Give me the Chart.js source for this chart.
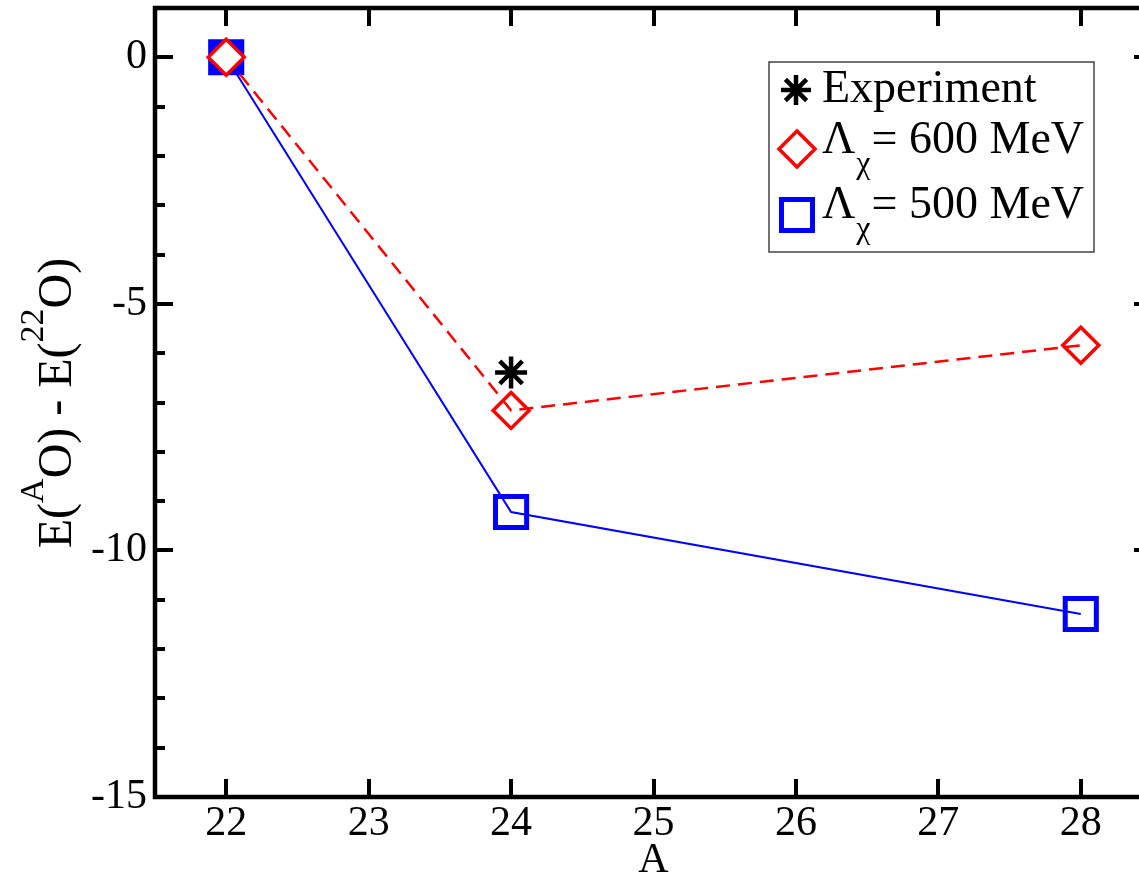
<!DOCTYPE html>
<html>
<head>
<meta charset="utf-8">
<script src="https://cdn.jsdelivr.net/npm/chart.js@4.4.1/dist/chart.umd.min.js"></script>
<style>
  body { margin: 0; background: #fff; }
  #wrap { width: 1139px; height: 882px; overflow: hidden; }
</style>
</head>
<body>
<div id="wrap"><canvas id="oxygenChart" width="1170" height="882"></canvas></div>
<script>
// mass numbers of the oxygen isotopes and energies relative to 22O (MeV)
const massNumbers = [22, 24, 28];
const lambda600 = [0, -7.16, -5.84];
const lambda500 = [0, -9.22, -11.29];
const expMass = [24];
const expEnergy = [-6.39];
const xTickValues = [22, 23, 24, 25, 26, 27, 28];
const yTickValues = [0, -5, -10, -15];
const legendLabels = ['Experiment', '600 MeV', '500 MeV'];

const serif = "'Liberation Serif', 'Times New Roman', serif";

function toPoints(xs, ys) {
  return xs.map((x, i) => ({ x: x, y: ys[i] }));
}

// frame with inward ticks on all four sides
const framePlugin = {
  id: 'frame',
  beforeDatasetsDraw(chart) {
    const { ctx, chartArea: a, scales: { x, y } } = chart;
    ctx.save();
    ctx.strokeStyle = '#000';
    ctx.lineWidth = 4;
    ctx.lineCap = 'butt';
    ctx.beginPath();
    for (let v = -14; v <= 0; v++) {
      const py = Math.round(y.getPixelForValue(v));
      const len = v % 5 === 0 ? 18 : 10;
      ctx.moveTo(a.left, py); ctx.lineTo(a.left + len, py);
      ctx.moveTo(a.right, py); ctx.lineTo(a.right - len, py);
    }
    xTickValues.forEach(v => {
      const px = Math.round(x.getPixelForValue(v));
      ctx.moveTo(px, a.bottom); ctx.lineTo(px, a.bottom - 18);
      ctx.moveTo(px, a.top); ctx.lineTo(px, a.top + 18);
    });
    ctx.stroke();
    ctx.lineWidth = 4.5;
    ctx.strokeRect(a.left, a.top, a.right - a.left, a.bottom - a.top);
    ctx.restore();
  },
  afterDraw(chart) {
    const ctx = chart.ctx;
    ctx.save();

    // y axis title with superscripts
    const main = "48px " + serif, sup = "34px " + serif;
    const parts = [['E(', main, 0], ['A', sup, -28], ['O) - E(', main, 0], ['22', sup, -28], ['O)', main, 0]];
    let total = 0;
    parts.forEach(p => { ctx.font = p[1]; total += ctx.measureText(p[0]).width; });
    ctx.translate(71, 403);
    ctx.rotate(-Math.PI / 2);
    ctx.fillStyle = '#000';
    ctx.textBaseline = 'alphabetic';
    let cx = -total / 2;
    parts.forEach(p => {
      ctx.font = p[1];
      ctx.fillText(p[0], cx, p[2]);
      cx += ctx.measureText(p[0]).width;
    });
    ctx.restore();

    // legend box
    ctx.save();
    ctx.fillStyle = '#fff';
    ctx.fillRect(769, 62, 325, 190);
    ctx.strokeStyle = '#444';
    ctx.lineWidth = 1.5;
    ctx.strokeRect(769, 62, 325, 190);

    // star
    ctx.strokeStyle = '#000';
    ctx.lineWidth = 4.5;
    ctx.beginPath();
    for (let k = 0; k < 4; k++) {
      const ang = k * Math.PI / 4;
      ctx.moveTo(796 - 15 * Math.cos(ang), 90 - 15 * Math.sin(ang));
      ctx.lineTo(796 + 15 * Math.cos(ang), 90 + 15 * Math.sin(ang));
    }
    ctx.stroke();
    // diamond
    ctx.strokeStyle = '#ff0000';
    ctx.lineWidth = 3.5;
    ctx.beginPath();
    ctx.moveTo(797, 131); ctx.lineTo(815, 149); ctx.lineTo(797, 167); ctx.lineTo(779, 149);
    ctx.closePath();
    ctx.stroke();
    // square
    ctx.strokeStyle = '#0000ff';
    ctx.lineWidth = 5;
    ctx.strokeRect(781.5, 199.5, 31, 31);

    ctx.fillStyle = '#000';
    ctx.font = "46px " + serif;
    ctx.fillText(legendLabels[0], 822, 102);
    [[legendLabels[1], 153], [legendLabels[2], 218]].forEach(r => {
      ctx.font = "46px " + serif;
      ctx.fillText('\u039B', 822, r[1]);
      const w = ctx.measureText('\u039B').width;
      ctx.font = "32px " + serif;
      ctx.fillText('\u03C7', 822 + w + 1, r[1] + 20);
      const w2 = ctx.measureText('\u03C7').width;
      ctx.font = "46px " + serif;
      ctx.fillText('= ' + r[0], 822 + w + w2 + 2, r[1]);
    });
    ctx.restore();
  }
};

function noPadding(s) {
  s.paddingTop = 0; s.paddingBottom = 0; s.paddingLeft = 0; s.paddingRight = 0;
}

new Chart(document.getElementById('oxygenChart'), {
  type: 'line',
  data: {
    datasets: [
      {
        label: legendLabels[0],
        data: toPoints(expMass, expEnergy),
        showLine: false,
        pointStyle: 'star',
        pointRadius: 16,
        pointBorderWidth: 4.5,
        pointBorderColor: '#000',
        pointBackgroundColor: 'rgba(0,0,0,0)'
      },
      {
        label: legendLabels[1],
        data: toPoints(massNumbers, lambda600),
        borderColor: '#ff0000',
        borderWidth: 2.5,
        borderDash: [14, 8],
        pointStyle: 'rectRot',
        pointRadius: 18,
        pointBorderWidth: 3.5,
        pointBorderColor: '#ff0000',
        pointBackgroundColor: ['#ffffff', 'rgba(0,0,0,0)', 'rgba(0,0,0,0)'],
        tension: 0
      },
      {
        label: legendLabels[2],
        data: toPoints(massNumbers, lambda500),
        borderColor: '#0000ff',
        borderWidth: 2,
        pointStyle: 'rect',
        pointRadius: 22,
        pointBorderWidth: 5,
        pointBorderColor: '#0000ff',
        pointBackgroundColor: ['#0000ff', 'rgba(0,0,0,0)', 'rgba(0,0,0,0)'],
        tension: 0
      }
    ]
  },
  options: {
    responsive: false,
    animation: false,
    layout: { autoPadding: false, padding: { top: 8, right: 18, left: 0, bottom: 0 } },
    plugins: {
      legend: { display: false },
      tooltip: { enabled: false }
    },
    scales: {
      x: {
        type: 'linear',
        min: 21.5,
        max: 28.5,
        afterFit: s => { s.height = 85; noPadding(s); },
        afterBuildTicks: s => { s.ticks = xTickValues.map(v => ({ value: v })); },
        grid: { display: false, drawTicks: false },
        border: { display: false },
        ticks: { color: '#000', font: { family: serif, size: 42 }, padding: 2 },
        title: { display: true, text: 'A', color: '#000', font: { family: serif, size: 42, lineHeight: 1 }, padding: 0 }
      },
      y: {
        min: -15,
        max: 1,
        afterFit: s => { s.width = 155; noPadding(s); },
        afterBuildTicks: s => { s.ticks = yTickValues.map(v => ({ value: v })); },
        grid: { display: false, drawTicks: false },
        border: { display: false },
        ticks: { color: '#000', font: { family: serif, size: 42 }, padding: 8 }
      }
    }
  },
  plugins: [framePlugin]
});
</script>
</body>
</html>
